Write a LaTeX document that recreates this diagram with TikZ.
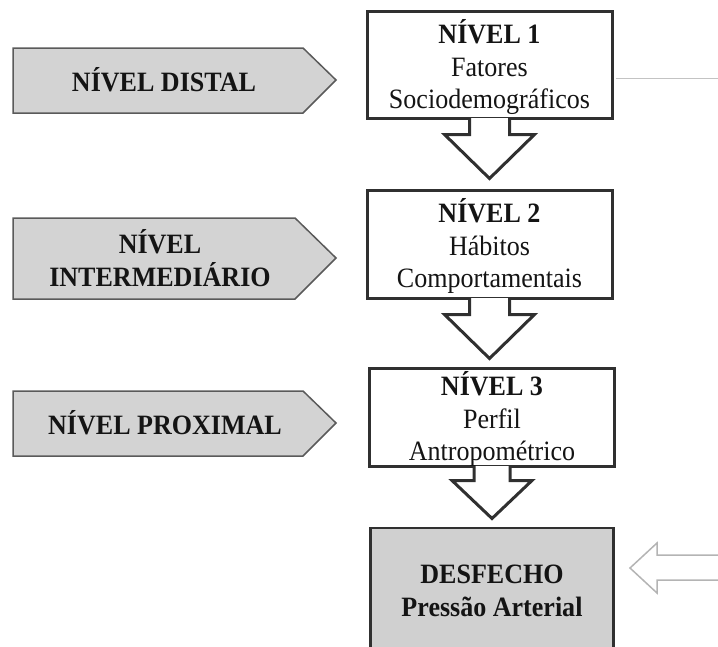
\documentclass[tikz,border=0pt]{standalone}
\usepackage{fontspec}
\setmainfont[FakeStretch=0.93]{Liberation Serif}
\usetikzlibrary{calc}
\definecolor{boxline}{HTML}{303030}
\definecolor{pentfill}{HTML}{D3D3D3}
\definecolor{pentline}{HTML}{5A5A5A}
\definecolor{outfill}{HTML}{D0D0D0}
\definecolor{faint}{HTML}{B4B4B4}
\begin{document}
\begin{tikzpicture}[x=1pt,y=-1pt,
  txt/.style={font=\fontsize{28}{32.5}\selectfont, align=center, inner sep=0pt, text=black!92},
  btxt/.style={txt, font=\fontsize{28}{32.5}\selectfont\bfseries},
  levelbox/.style={draw=boxline, line width=3pt, fill=white, minimum width=245pt, inner sep=0pt},
  outbox/.style={draw=boxline, line width=2.5pt, fill=outfill, minimum width=243pt, inner sep=0pt},
  pent/.style={draw=pentline, line width=1.5pt, fill=pentfill},
  blockarrow/.style={draw=boxline, line width=3pt, fill=white, line join=miter},
  hollowarrow/.style={draw=faint, line width=1.5pt, fill=white, line join=miter},
  thinline/.style={draw=faint!80, line width=1pt}]
\useasboundingbox (0,0) rectangle (718,646);

% left pentagons
\draw[pent] (13,48) -- (303,48) -- (336,80) -- (303,113) -- (13,113) -- cycle;
\node[btxt] (distal) at (164,80) {NÍVEL DISTAL};
\draw[pent] (13,218) -- (295,218) -- (336,258) -- (295,299) -- (13,299) -- cycle;
\node[btxt] (inter) at (160,258) {NÍVEL\\INTERMEDIÁRIO};
\draw[pent] (13,391) -- (303,391) -- (336,423) -- (303,456) -- (13,456) -- cycle;
\node[btxt] (prox) at (165,423) {NÍVEL PROXIMAL};

% level boxes
\node[levelbox, minimum height=107pt] (b1) at (489.5,64.5) {};
\node[txt] (t1) at ($(b1)+(0,3)$) {\textbf{NÍVEL 1}\\Fatores\\Sociodemográficos};
\node[levelbox, minimum height=108pt] (b2) at (489.5,244) {};
\node[txt] (t2) at ($(b2)+(0,2)$) {\textbf{NÍVEL 2}\\Hábitos\\Comportamentais};
\node[levelbox, minimum height=98pt] (b3) at (492,417) {};
\node[txt] (t3) at ($(b3)+(0,2)$) {\textbf{NÍVEL 3}\\Perfil\\Antropométrico};
\node[outbox, minimum height=150pt] (des) at (492,603) {};
\node[btxt] (destxt) at (492,591) {DESFECHO\\Pressão Arterial};

% block arrows between levels
\draw[blockarrow] ($(b1.south)+(-20,-1.5)$) -- ($(b1.south)+(-20,15)$) -- ($(b1.south)+(-45,15)$)
  -- ($(b1.south)+(0,59)$) -- ($(b1.south)+(45,15)$) -- ($(b1.south)+(20,15)$) -- ($(b1.south)+(20,-1.5)$);
\draw[blockarrow] ($(b2.south)+(-20,-1.5)$) -- ($(b2.south)+(-20,15)$) -- ($(b2.south)+(-45,15)$)
  -- ($(b2.south)+(0,59)$) -- ($(b2.south)+(45,15)$) -- ($(b2.south)+(20,15)$) -- ($(b2.south)+(20,-1.5)$);
\draw[blockarrow] ($(b3.south)+(-18,-1.5)$) -- ($(b3.south)+(-18,13)$) -- ($(b3.south)+(-40,13)$)
  -- ($(b3.south)+(0,51)$) -- ($(b3.south)+(40,13)$) -- ($(b3.south)+(18,13)$) -- ($(b3.south)+(18,-1.5)$);

% right side faint line and arrow
\coordinate (rt) at (720,78);
\draw[thinline] ($(b1.east)+(2,13.5)$) -- (rt);
\coordinate (htip) at (630,568);
\draw[hollowarrow] (722,555) -- (657,555) -- (657,543) -- (htip) -- (657,593) -- (657,580) -- (722,580);
\end{tikzpicture}
\end{document}
